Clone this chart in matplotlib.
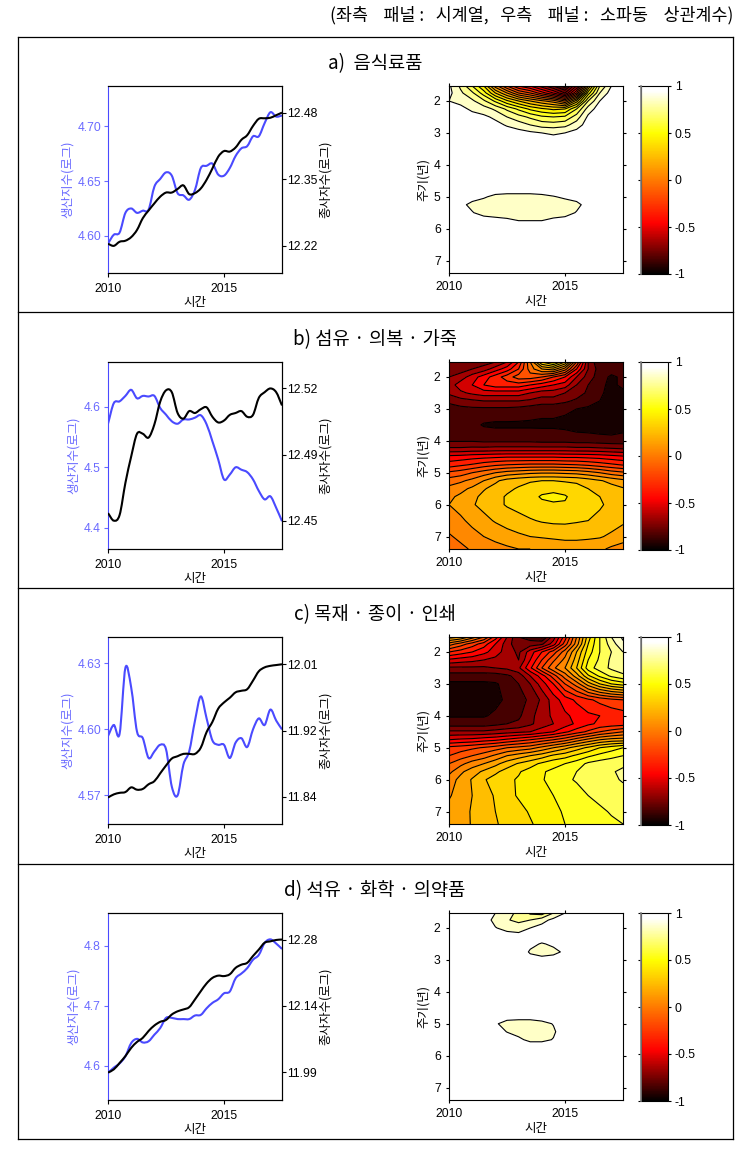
import numpy as np
import matplotlib
matplotlib.use('Agg')
import matplotlib.pyplot as plt
from matplotlib.colors import LinearSegmentedColormap, Normalize
from matplotlib.cm import ScalarMappable
from matplotlib.lines import Line2D
from matplotlib.path import Path
from matplotlib.patches import PathPatch

plt.rcParams['font.family'] = ['Liberation Sans', 'Noto Sans CJK KR', 'DejaVu Sans']

years = [2010 + i * 0.25 for i in range(31)]

blue_a = [4.593, 4.601, 4.603, 4.621, 4.625, 4.621, 4.623, 4.624, 4.645, 4.652, 4.658, 4.655, 4.639, 4.637, 4.633, 4.642,
          4.662, 4.664, 4.666, 4.656, 4.655, 4.662, 4.673, 4.680, 4.682, 4.691, 4.691, 4.703, 4.713, 4.709, 4.710]
black_a = [12.224, 12.220, 12.228, 12.230, 12.237, 12.251, 12.274, 12.289, 12.303, 12.316, 12.324, 12.324, 12.331, 12.338, 12.321, 12.323,
           12.332, 12.349, 12.371, 12.394, 12.405, 12.404, 12.412, 12.427, 12.436, 12.454, 12.468, 12.469, 12.470, 12.475, 12.480]
blue_b = [4.572, 4.606, 4.609, 4.618, 4.628, 4.614, 4.618, 4.617, 4.618, 4.598, 4.587, 4.576, 4.572, 4.579, 4.579, 4.582,
          4.586, 4.571, 4.543, 4.513, 4.480, 4.488, 4.500, 4.496, 4.492, 4.480, 4.461, 4.447, 4.452, 4.433, 4.411]
black_b = [12.454, 12.450, 12.453, 12.470, 12.484, 12.496, 12.496, 12.494, 12.501, 12.513, 12.519, 12.518, 12.507, 12.504, 12.508, 12.507,
           12.509, 12.510, 12.505, 12.502, 12.503, 12.506, 12.507, 12.508, 12.505, 12.506, 12.515, 12.518, 12.520, 12.518, 12.511]
blue_c = [4.597, 4.602, 4.598, 4.628, 4.619, 4.599, 4.596, 4.587, 4.590, 4.593, 4.591, 4.574, 4.570, 4.584, 4.590, 4.604,
          4.615, 4.605, 4.595, 4.593, 4.593, 4.587, 4.594, 4.596, 4.592, 4.600, 4.605, 4.602, 4.609, 4.604, 4.600]
black_c = [11.839, 11.843, 11.845, 11.846, 11.852, 11.849, 11.850, 11.856, 11.860, 11.870, 11.880, 11.889, 11.892, 11.895, 11.895, 11.895,
           11.903, 11.923, 11.936, 11.953, 11.961, 11.967, 11.974, 11.976, 11.978, 11.989, 12.001, 12.006, 12.008, 12.009, 12.010]
blue_d = [4.588, 4.597, 4.604, 4.616, 4.638, 4.645, 4.639, 4.641, 4.652, 4.663, 4.680, 4.680, 4.678, 4.678, 4.678, 4.684,
          4.685, 4.696, 4.705, 4.711, 4.721, 4.724, 4.746, 4.754, 4.763, 4.777, 4.785, 4.805, 4.811, 4.804, 4.795]
black_d = [11.989, 11.996, 12.010, 12.025, 12.043, 12.056, 12.065, 12.080, 12.092, 12.100, 12.104, 12.116, 12.123, 12.127, 12.132, 12.149,
           12.167, 12.184, 12.196, 12.201, 12.200, 12.204, 12.218, 12.225, 12.229, 12.244, 12.258, 12.273, 12.276, 12.279, 12.280]

# correlation, one row per period, one column per half year
grid_t = [2010 + i * 0.5 for i in range(16)]
grid_p = [1.53, 1.75, 2, 2.25, 2.5, 2.75, 3, 3.5, 4, 4.25, 4.5, 4.75, 5, 5.25, 5.5, 5.75, 6, 6.5, 7, 7.39]

grid_a = [
    [.92, .78, .60, .40, .05, -.20, -.40, -.50, -.65, -.80, -.95, -.60, .20, .70, .90, .97],
    [.93, .82, .72, .55, .30, .10, -.10, -.20, -.35, -.50, -.70, -.30, .45, .80, .95, .98],
    [.90, .87, .82, .72, .58, .42, .30, .20, .12, .05, -.10, .25, .70, .90, .97, .98],
    [.95, .93, .88, .85, .78, .68, .58, .48, .42, .38, .40, .60, .85, .95, .98, .98],
    [.97, .96, .94, .92, .88, .80, .74, .68, .62, .60, .62, .75, .92, .97, .98, .98],
    [.98, .97, .96, .95, .93, .89, .85, .80, .76, .75, .77, .85, .95, .98, .98, .98],
    [.98, .98, .98, .97, .96, .95, .94, .92, .90, .89, .90, .94, .97, .98, .98, .98],
    [.98, .98, .98, .98, .98, .97, .97, .97, .97, .97, .97, .97, .98, .98, .98, .98],
    [.98, .98, .98, .98, .98, .98, .98, .98, .98, .98, .98, .98, .98, .98, .98, .98],
    [.98, .98, .98, .98, .98, .98, .98, .98, .98, .98, .98, .98, .98, .98, .98, .98],
    [.98, .98, .98, .97, .97, .97, .97, .97, .97, .97, .97, .97, .98, .98, .98, .98],
    [.97, .97, .96, .96, .95, .95, .95, .95, .95, .96, .96, .97, .97, .97, .97, .97],
    [.97, .96, .93, .91, .88, .87, .87, .87, .88, .895, .915, .93, .96, .97, .97, .97],
    [.97, .92, .88, .86, .85, .845, .84, .84, .84, .85, .86, .88, .93, .97, .97, .97],
    [.97, .95, .905, .87, .86, .85, .85, .85, .85, .86, .87, .905, .95, .97, .97, .97],
    [.97, .97, .95, .94, .93, .92, .90, .90, .90, .92, .93, .95, .97, .97, .97, .97],
    [.97, .97, .97, .97, .97, .97, .97, .97, .97, .97, .97, .97, .97, .97, .97, .97],
    [.97, .97, .97, .97, .97, .97, .97, .97, .97, .97, .97, .97, .97, .97, .97, .97],
    [.97, .97, .97, .97, .97, .97, .97, .97, .97, .97, .97, .97, .97, .97, .97, .97],
    [.97, .97, .97, .97, .97, .97, .97, .97, .97, .97, .97, .97, .97, .97, .97, .97],
]
grid_b = [
    [-.80, -.80, -.75, -.75, -.70, -.60, -.40, .00, .40, .55, .30, -.20, -.70, -.90, -.90, -.85],
    [-.75, -.75, -.70, -.65, -.55, -.45, -.30, -.05, .10, .15, -.05, -.40, -.70, -.85, -.85, -.85],
    [-.70, -.65, -.55, -.45, -.35, -.25, -.15, -.15, -.20, -.30, -.40, -.60, -.75, -.85, -.92, -.88],
    [-.65, -.55, -.50, -.40, -.35, -.35, -.35, -.40, -.45, -.50, -.55, -.70, -.80, -.88, -.92, -.88],
    [-.68, -.62, -.58, -.55, -.55, -.55, -.55, -.60, -.65, -.65, -.70, -.75, -.82, -.88, -.94, -.92],
    [-.78, -.74, -.72, -.70, -.70, -.70, -.70, -.72, -.75, -.75, -.78, -.82, -.85, -.90, -.96, -.96],
    [-.84, -.83, -.82, -.82, -.82, -.82, -.83, -.85, -.87, -.87, -.88, -.90, -.92, -.96, -.97, -.97],
    [-.84, -.85, -.87, -.91, -.92, -.92, -.92, -.92, -.92, -.92, -.93, -.95, -.96, -.97, -.97, -.94],
    [-.81, -.81, -.81, -.82, -.82, -.82, -.82, -.82, -.83, -.83, -.83, -.84, -.84, -.85, -.86, -.86],
    [-.68, -.68, -.67, -.67, -.66, -.66, -.66, -.66, -.66, -.66, -.66, -.67, -.67, -.68, -.69, -.70],
    [-.47, -.46, -.44, -.43, -.42, -.41, -.41, -.41, -.41, -.41, -.42, -.42, -.43, -.44, -.46, -.48],
    [-.35, -.32, -.29, -.25, -.22, -.20, -.19, -.18, -.18, -.18, -.19, -.20, -.22, -.25, -.28, -.31],
    [-.18, -.15, -.10, -.05, .00, .04, .06, .08, .09, .09, .08, .07, .04, .00, -.05, -.08],
    [-.05, -.02, .03, .10, .18, .24, .27, .29, .30, .30, .29, .28, .25, .21, .17, .13],
    [.03, .07, .12, .19, .24, .28, .31, .34, .37, .38, .36, .34, .30, .27, .24, .21],
    [.08, .12, .17, .23, .27, .31, .34, .37, .41, .42, .41, .36, .33, .30, .27, .24],
    [.10, .14, .19, .23, .27, .31, .33, .36, .38, .39, .39, .36, .33, .31, .28, .25],
    [.04, .08, .13, .17, .21, .24, .27, .29, .31, .32, .32, .31, .30, .28, .25, .22],
    [-.01, .02, .06, .10, .13, .16, .18, .20, .21, .22, .23, .23, .22, .21, .18, .14],
    [-.05, -.02, .01, .04, .06, .08, .10, .10, .11, .12, .13, .13, .13, .12, .08, .06],
]
grid_c = [
    [.25, .20, .05, -.10, -.35, -.60, -.80, -.85, -.92, -.65, -.35, .00, .35, .60, .80, .92],
    [-.05, -.15, -.25, -.35, -.50, -.65, -.78, -.75, -.72, -.55, -.25, .05, .40, .60, .75, .88],
    [-.30, -.35, -.40, -.47, -.55, -.65, -.72, -.55, -.40, -.25, -.05, .20, .45, .60, .70, .80],
    [-.52, -.55, -.57, -.60, -.63, -.68, -.70, -.50, -.30, -.12, .03, .25, .50, .62, .72, .78],
    [-.72, -.72, -.72, -.72, -.70, -.68, -.62, -.42, -.20, -.02, .10, .30, .55, .65, .72, .75],
    [-.85, -.85, -.85, -.85, -.85, -.82, -.76, -.60, -.45, -.25, -.05, .15, .38, .52, .62, .68],
    [-.92, -.92, -.92, -.92, -.91, -.87, -.80, -.70, -.55, -.40, -.20, -.05, .15, .30, .40, .45],
    [-.97, -.97, -.96, -.95, -.93, -.88, -.84, -.78, -.68, -.55, -.45, -.38, -.32, -.27, -.23, -.20],
    [-.91, -.91, -.91, -.91, -.88, -.85, -.82, -.73, -.65, -.58, -.52, -.47, -.42, -.40, -.37, -.35],
    [-.85, -.85, -.85, -.85, -.83, -.80, -.78, -.72, -.65, -.60, -.55, -.48, -.42, -.38, -.36, -.35],
    [-.68, -.68, -.68, -.68, -.66, -.64, -.62, -.60, -.55, -.50, -.42, -.35, -.28, -.20, -.15, -.10],
    [-.50, -.48, -.47, -.44, -.42, -.38, -.34, -.30, -.25, -.20, -.14, -.05, .03, .10, .14, .15],
    [-.27, -.25, -.22, -.19, -.15, -.10, -.07, -.04, .03, .10, .17, .25, .32, .40, .45, .50],
    [-.20, -.15, -.10, -.05, .02, .10, .15, .20, .25, .32, .36, .42, .48, .53, .57, .60],
    [-.10, -.03, .05, .10, .17, .25, .31, .36, .42, .47, .50, .55, .62, .65, .66, .68],
    [-.03, .08, .15, .22, .28, .34, .39, .44, .49, .52, .56, .60, .63, .65, .69, .72],
    [.05, .13, .21, .29, .34, .38, .41, .46, .49, .54, .58, .61, .65, .66, .68, .71],
    [.09, .14, .20, .26, .31, .37, .41, .45, .48, .50, .53, .56, .60, .63, .65, .66],
    [.13, .16, .21, .26, .30, .34, .37, .41, .44, .48, .51, .54, .56, .58, .61, .63],
    [.12, .15, .21, .25, .29, .33, .36, .39, .43, .46, .50, .52, .54, .56, .58, .60],
]
grid_d = [
    [.98, .98, .98, .97, .90, .83, .78, .68, .65, .80, .90, .96, .98, .98, .98, .98],
    [.98, .98, .98, .95, .87, .81, .77, .80, .86, .93, .97, .98, .98, .98, .98, .98],
    [.98, .98, .98, .97, .905, .87, .86, .90, .94, .97, .98, .98, .98, .98, .98, .98],
    [.98, .98, .98, .98, .97, .94, .93, .95, .97, .98, .98, .98, .98, .98, .98, .98],
    [.98, .98, .98, .98, .98, .98, .98, .93, .89, .92, .98, .98, .98, .98, .98, .98],
    [.98, .98, .98, .98, .98, .98, .98, .885, .865, .87, .92, .98, .98, .98, .98, .98],
    [.98, .98, .98, .98, .98, .98, .98, .95, .93, .95, .98, .98, .98, .98, .98, .98],
    [.98, .98, .98, .98, .98, .98, .98, .98, .98, .98, .98, .98, .98, .98, .98, .98],
    [.98, .98, .98, .98, .98, .98, .98, .98, .98, .98, .98, .98, .98, .98, .98, .98],
    [.98, .98, .98, .98, .98, .98, .98, .98, .98, .98, .98, .98, .98, .98, .98, .98],
    [.98, .98, .98, .98, .98, .98, .98, .98, .98, .98, .98, .98, .98, .98, .98, .98],
    [.98, .98, .98, .98, .97, .94, .94, .94, .96, .97, .98, .98, .98, .98, .98, .98],
    [.98, .98, .98, .98, .91, .87, .86, .86, .87, .905, .96, .98, .98, .98, .98, .98],
    [.98, .98, .98, .98, .97, .895, .865, .86, .865, .885, .96, .98, .98, .98, .98, .98],
    [.98, .98, .98, .98, .98, .98, .92, .875, .875, .905, .97, .98, .98, .98, .98, .98],
    [.98, .98, .98, .98, .98, .98, .97, .97, .97, .97, .98, .98, .98, .98, .98, .98],
    [.98, .98, .98, .98, .98, .98, .98, .98, .98, .98, .98, .98, .98, .98, .98, .98],
    [.98, .98, .98, .98, .98, .98, .98, .98, .98, .98, .98, .98, .98, .98, .98, .98],
    [.98, .98, .98, .98, .98, .98, .98, .98, .98, .98, .98, .98, .98, .98, .98, .98],
    [.98, .98, .98, .98, .98, .98, .98, .98, .98, .98, .98, .98, .98, .98, .98, .98],
]

titles = ['a)  음식료품', 'b) 섬유 · 의복 · 가죽', 'c) 목재 · 종이 · 인쇄', 'd) 석유 · 화학 · 의약품']
left_ticks = [[4.60, 4.65, 4.70], [4.4, 4.5, 4.6], [4.57, 4.60, 4.63], [4.6, 4.7, 4.8]]
left_labels = [['4.60', '4.65', '4.70'], ['4.4', '4.5', '4.6'], ['4.57', '4.60', '4.63'], ['4.6', '4.7', '4.8']]
right_ticks = [[12.22, 12.35, 12.48], [12.45, 12.485, 12.52], [11.84, 11.925, 12.01], [11.99, 12.135, 12.28]]
right_labels = [['12.22', '12.35', '12.48'], ['12.45', '12.49', '12.52'], ['11.84', '11.92', '12.01'], ['11.99', '12.14', '12.28']]
left_lim = [(4.566, 4.737), (4.365, 4.674), (4.557, 4.642), (4.543, 4.855)]
right_lim = [(12.167, 12.532), (12.435, 12.534), (11.805, 12.045), (11.929, 12.338)]
bar_ticks = [-1, -.5, 0, .5, 1]
bar_labels = ['-1', '-0.5', '0', '0.5', '1']

blues = [blue_a, blue_b, blue_c, blue_d]
blacks = [black_a, black_b, black_c, black_d]
grids = [grid_a, grid_b, grid_c, grid_d]

W, H = 751, 1160
BLUE = '#4a4aff'
TICK_BLUE = '#6a6aff'
FS = 8.7
KO = ['Noto Sans CJK KR', 'DejaVu Sans']

cmap = LinearSegmentedColormap.from_list('hotbar', [(0, '#000000'), (.27, '#ff0000'), (.75, '#ffff00'), (.975, '#ffffff'), (1, '#ffffff')])
levels = np.arange(-10, 11) / 10


def px_axes(x0, y0, x1, y1):
    return fig.add_axes([x0 / W, 1 - y1 / H, (x1 - x0) / W, (y1 - y0) / H])


def hline(y):
    fig.add_artist(Line2D([18 / W, 733 / W], [1 - y / H, 1 - y / H], color='k', lw=0.9))


def smooth_line(axis, xs, ys, color):
    # round the corners between the read points with bezier segments
    xs = np.array(xs)
    ys = np.array(ys)
    dx = np.gradient(xs) / 3
    dy = np.gradient(ys) / 3
    verts = [(xs[0], ys[0])]
    codes = [Path.MOVETO]
    for k in range(len(xs) - 1):
        verts += [(xs[k] + dx[k], ys[k] + dy[k]), (xs[k + 1] - dx[k + 1], ys[k + 1] - dy[k + 1]), (xs[k + 1], ys[k + 1])]
        codes += [Path.CURVE4, Path.CURVE4, Path.CURVE4]
    axis.add_patch(PathPatch(Path(verts, codes), fill=False, edgecolor=color, lw=1.5))


fig = plt.figure(figsize=(W / 100, H / 100), dpi=100)

tops = [86, 362, 637, 913]
frame = [37, 312, 588, 864, 1139]
for y in frame:
    hline(y)
for x in [18, 733]:
    fig.add_artist(Line2D([x / W, x / W], [1 - 37 / H, 1 - 1139 / H], color='k', lw=0.9))

fig.text(733 / W, 1 - 15 / H, '(좌측    패널 :   시계열,   우측    패널 :   소파동    상관계수)', ha='right', va='center',
         fontsize=12.5, family=KO)

for i in range(4):
    top = tops[i]
    bot = top + 187
    mid = top + 93.5
    fig.text(375 / W, 1 - (top - 22) / H, titles[i], ha='center', va='center', fontsize=13.5, family=KO)

    # left panel: two series on two scales
    ax = px_axes(108, top, 282, bot)
    smooth_line(ax, years, blues[i], BLUE)
    ax.set_xlim(2010, 2017.5)
    ax.set_ylim(*left_lim[i])
    ax.set_xticks([2010, 2015])
    ax.set_yticks(left_ticks[i])
    ax.set_yticklabels(left_labels[i])
    ax.tick_params(axis='y', colors=TICK_BLUE, length=3, pad=2, labelsize=FS)
    ax.tick_params(axis='x', length=3, pad=4, labelsize=FS)
    ax.spines['left'].set_color(BLUE)
    ax.set_xlabel('시간', fontsize=9, family=KO, labelpad=1)

    ax2 = ax.twinx()
    smooth_line(ax2, years, blacks[i], 'k')
    ax2.set_ylim(*right_lim[i])
    ax2.set_yticks(right_ticks[i])
    ax2.set_yticklabels(right_labels[i])
    ax2.tick_params(axis='y', length=3, pad=0.5, labelsize=FS)
    ax2.spines['left'].set_visible(False)

    lab_x = 67 if i in (0, 2) else 73
    fig.text(lab_x / W, 1 - mid / H, '생산지수(로그)', color=TICK_BLUE, rotation=90, ha='center', va='center',
             fontsize=9, family=KO)
    fig.text(325 / W, 1 - mid / H, '종사자수(로그)', rotation=90, ha='center', va='center', fontsize=9, family=KO)

    # right panel: wavelet correlation
    hx = px_axes(449, top, 623, bot)
    hx.contourf(grid_t, grid_p, grids[i], levels=levels, cmap=cmap, norm=Normalize(-1, 1))
    hx.contour(grid_t, grid_p, grids[i], levels=levels[1:-1], colors='k', linewidths=0.8, linestyles='solid')
    hx.set_xlim(2010, 2017.5)
    hx.set_ylim(7.39, 1.53)
    hx.set_xticks([2010, 2015])
    hx.set_yticks([2, 3, 4, 5, 6, 7])
    hx.tick_params(axis='both', length=2, pad=4, labelsize=FS, top=True, right=True)
    hx.set_xlabel('시간', fontsize=9, family=KO, labelpad=1)
    fig.text(423 / W, 1 - mid / H, '주기(년)', rotation=90, ha='center', va='center', fontsize=9, family=KO)

    # every bar needs its own norm, a shared one resets the tick labels
    cax = px_axes(641, top, 668, bot + 1)
    cb = fig.colorbar(ScalarMappable(norm=Normalize(-1, 1), cmap=cmap), cax=cax)
    cb.set_ticks(bar_ticks, labels=bar_labels)
    cb.ax.tick_params(axis='y', length=2, pad=3, labelsize=FS, left=True, right=True)
    cb.outline.set_linewidth(0.8)
    fig.add_artist(Line2D([641 / W, 641 / W], [1 - top / H, 1 - (bot + 1) / H], color='#808080', lw=1.2))

fig.savefig('out.png', dpi=100)
